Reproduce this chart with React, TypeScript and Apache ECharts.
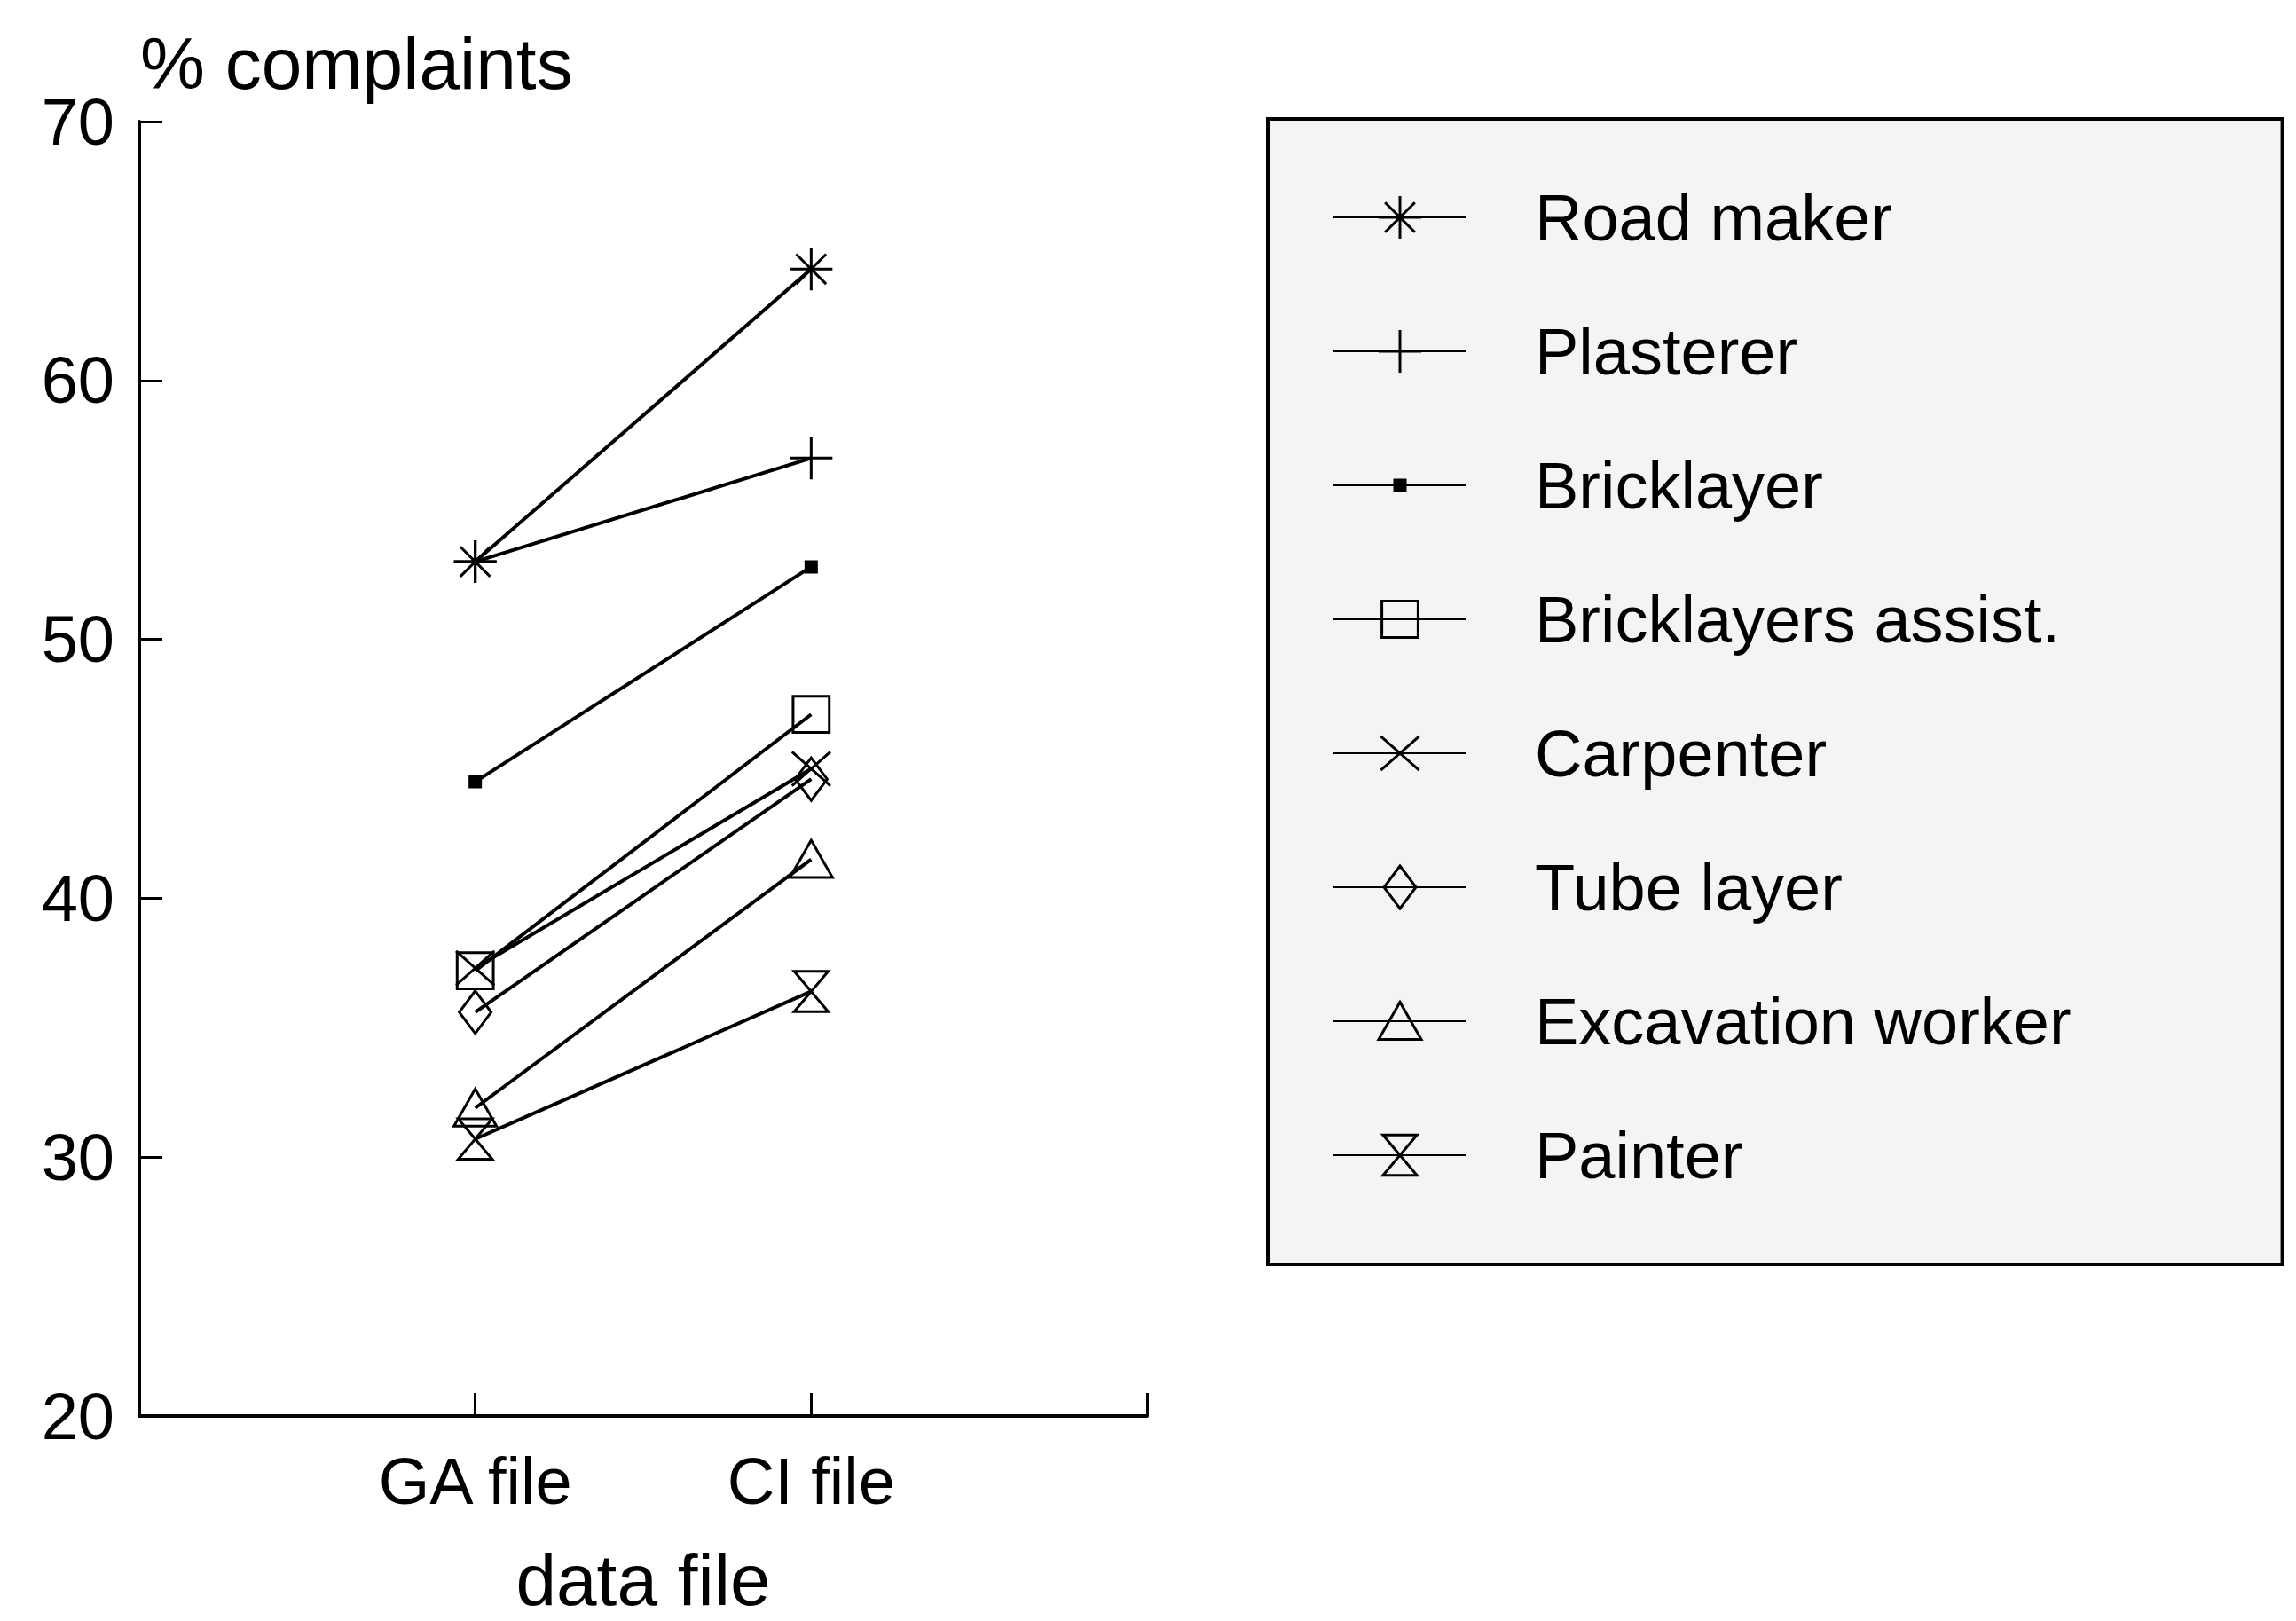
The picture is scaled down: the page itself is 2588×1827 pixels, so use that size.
import React, { useEffect, useRef } from 'react';
import * as echarts from 'echarts';

// ---- data ----
const categories = ['', 'GA file', 'CI file', ''];
const seriesNames = [
  'Road maker',
  'Plasterer',
  'Bricklayer',
  'Bricklayers assist.',
  'Carpenter',
  'Tube layer',
  'Excavation worker',
  'Painter',
];
const gaValues = [53.0, 53.0, 44.5, 37.2, 37.3, 35.6, 31.9, 30.7];
const ciValues = [64.3, 57.0, 52.8, 47.1, 45.0, 44.6, 41.5, 36.4];
const yMin = 20;
const yMax = 70;
const yInterval = 10;
const yAxisTitle = '% complaints';
const xAxisTitle = 'data file';

// ---- symbols (all share the same invisible 20x20 box) ----
const BOX = 'M-10,-10M10,10';
const symbolShapes = [
  BOX + 'M0,-10L0,10M-10,0L10,0M-7,-7L7,7M-7,7L7,-7',
  BOX + 'M0,-10L0,10M-10,0L10,0',
  BOX + 'M-2.5,-2.5L2.5,-2.5L2.5,2.5L-2.5,2.5Z',
  BOX + 'M-8.5,-8.5L8.5,-8.5L8.5,8.5L-8.5,8.5Z',
  BOX + 'M-9,-8L9,8M-9,8L9,-8',
  BOX + 'M0,-10L7.5,0L0,10L-7.5,0Z',
  BOX + 'M0,-9L10,8.5L-10,8.5Z',
  BOX + 'M-8,-9.5L8,-9.5L-8,9.5L8,9.5Z',
];
const filledSymbol = [false, false, true, false, false, false, false, false];

const FONT = "'Liberation Sans', Arial, Helvetica, sans-serif";

export default function App() {
  const ref = useRef<HTMLDivElement>(null);

  useEffect(() => {
    if (!ref.current) return;
    const chart = echarts.init(ref.current, undefined, { renderer: 'svg' });

    const series = seriesNames.map((name, i) => ({
      name,
      type: 'line',
      data: [null, gaValues[i], ciValues[i], null],
      symbol: 'path://' + symbolShapes[i],
      symbolSize: 48,
      showSymbol: true,
      showAllSymbol: true,
      connectNulls: false,
      silent: true,
      lineStyle: { color: '#000', width: 4 },
      itemStyle: {
        color: filledSymbol[i] ? '#000' : 'rgba(0,0,0,0)',
        borderColor: '#000',
        borderWidth: 3,
      },
      emphasis: { disabled: true },
    }));

    chart.setOption({
      animation: false,
      backgroundColor: '#fff',
      title: {
        text: yAxisTitle,
        left: 158,
        top: 30,
        padding: 0,
        textStyle: {
          fontFamily: FONT,
          fontSize: 82,
          fontWeight: 'normal',
          color: '#000',
          lineHeight: 82,
        },
      },
      grid: { left: 157, top: 137, right: 1295, bottom: 231, containLabel: false },
      xAxis: {
        type: 'category',
        data: categories,
        boundaryGap: false,
        axisLine: { lineStyle: { color: '#000', width: 4 } },
        axisTick: { inside: true, length: 26, interval: 0, lineStyle: { color: '#000', width: 3 } },
        axisLabel: {
          interval: 0,
          fontFamily: FONT,
          fontSize: 74,
          lineHeight: 74,
          color: '#000',
          margin: 36,
        },
        splitLine: { show: false },
        name: xAxisTitle,
        nameLocation: 'middle',
        nameGap: 143,
        nameTextStyle: { fontFamily: FONT, fontSize: 82, lineHeight: 82, color: '#000' },
      },
      yAxis: {
        type: 'value',
        min: yMin,
        max: yMax,
        interval: yInterval,
        axisLine: { show: true, lineStyle: { color: '#000', width: 4 } },
        axisTick: { show: true, inside: true, length: 26, lineStyle: { color: '#000', width: 3 } },
        axisLabel: { fontFamily: FONT, fontSize: 74, color: '#000', margin: 28 },
        splitLine: { show: false },
      },
      legend: {
        orient: 'vertical',
        left: 1429,
        top: 134,
        padding: [62, 238, 74, 73],
        itemWidth: 150,
        itemHeight: 60,
        itemGap: 53,
        backgroundColor: '#f4f4f4',
        borderColor: '#000',
        borderWidth: 4,
        borderRadius: 0,
        selectedMode: false,
        itemStyle: { borderColor: '#000', borderWidth: 3 },
        textStyle: {
          fontFamily: FONT,
          fontSize: 74,
          color: '#000',
          lineHeight: 74,
          padding: [24, 0, 0, 72],
        },
        data: seriesNames,
      },
      series,
    });

    return () => chart.dispose();
  }, []);

  return (
    <div
      ref={ref}
      style={{ position: 'absolute', left: 0, top: 0, width: 2588, height: 1827, background: '#fff' }}
    />
  );
}
